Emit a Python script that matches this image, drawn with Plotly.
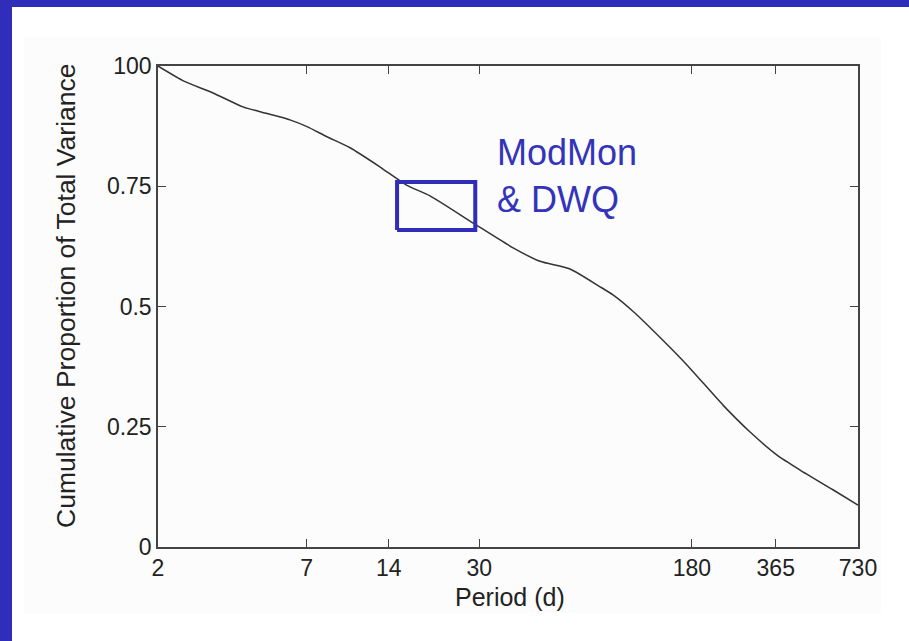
import plotly.graph_objects as go
import math

# Data
period_d = [2.0, 2.5, 3.18, 4.09, 4.73, 6.08, 7.02, 8.31, 10.1, 13.0, 16.3, 19.8,
            28.4, 39.9, 50.0, 64.4, 83.0, 92.6, 110, 138, 173, 234, 294, 369, 448, 591, 730]
cum_var = [1.0, 0.968, 0.944, 0.915, 0.905, 0.888, 0.874, 0.853, 0.830, 0.790, 0.752, 0.730,
           0.674, 0.622, 0.594, 0.578, 0.541, 0.524, 0.489, 0.435, 0.378, 0.295, 0.239, 0.191, 0.160, 0.119, 0.087]

x_ticks = [2, 7, 14, 30, 180, 365, 730]
x_tick_labels = ["2", "7", "14", "30", "180", "365", "730"]
y_ticks = [0, 0.25, 0.5, 0.75, 1.0]
y_tick_labels = ["0", "0.25", "0.5", "0.75", "100"]

box_x = [15, 29, 29, 15, 15]
box_y = [0.659, 0.659, 0.759, 0.759, 0.659]

BLUE = "rgb(47,45,185)"
FONT = "Liberation Sans, Arial, sans-serif"

fig = go.Figure()
fig.add_trace(go.Scatter(x=period_d, y=cum_var, mode="lines",
                         line=dict(color="#333333", width=1.5, shape="spline", smoothing=0.6),
                         showlegend=False, hoverinfo="skip"))
fig.add_trace(go.Scatter(x=box_x, y=box_y, mode="lines",
                         line=dict(color=BLUE, width=4), showlegend=False,
                         hoverinfo="skip"))

W, H = 909, 641
L, R, T, B = 158, 858, 66, 547

fig.update_layout(
    width=W, height=H,
    margin=dict(l=L, r=W - R, t=T, b=H - B, pad=0),
    paper_bgcolor="white", plot_bgcolor="rgba(0,0,0,0)",
    font=dict(family=FONT, color="#222222", size=23),
    xaxis=dict(type="log", range=[math.log10(2), math.log10(730)],
               tickvals=x_ticks, ticktext=x_tick_labels,
               ticks="inside", ticklen=8, tickwidth=1.2, tickcolor="#444",
               showline=True, linecolor="#444", linewidth=1.5, mirror="ticks",
               showgrid=False, zeroline=False, tickfont=dict(size=23)),
    yaxis=dict(range=[0, 1], tickvals=y_ticks, ticktext=y_tick_labels,
               ticks="inside", ticklen=8, tickwidth=1.2, tickcolor="#444",
               showline=True, linecolor="#444", linewidth=1.5, mirror="ticks",
               showgrid=False, zeroline=False, tickfont=dict(size=23)),
    shapes=[
        dict(type="rect", xref="paper", yref="paper", layer="below",
             x0=(24 - L) / (R - L), x1=(881 - L) / (R - L),
             y0=(B - 613) / (B - T), y1=(B - 38) / (B - T),
             fillcolor="#FCFCFC", line=dict(width=0)),
        dict(type="rect", xref="paper", yref="paper",
             x0=-L / (R - L), x1=(W - L) / (R - L),
             y0=(B - 7) / (B - T), y1=B / (B - T),
             fillcolor=BLUE, line=dict(width=0)),
        dict(type="rect", xref="paper", yref="paper",
             x0=-L / (R - L), x1=(12 - L) / (R - L),
             y0=(B - H) / (B - T), y1=B / (B - T),
             fillcolor=BLUE, line=dict(width=0)),
    ],
    annotations=[
        dict(text="ModMon<br>& DWQ", xref="paper", yref="paper",
             x=(495 - L) / (R - L), y=(B - 130) / (B - T),
             xanchor="left", yanchor="top", align="left", showarrow=False,
             font=dict(family=FONT, size=36, color="rgb(51,51,187)")),
        dict(text="Period (d)", xref="paper", yref="paper",
             x=(510 - L) / (R - L), y=(B - 597) / (B - T),
             xanchor="center", yanchor="middle", showarrow=False,
             font=dict(family=FONT, size=25, color="#222222")),
        dict(text="Cumulative Proportion of Total Variance", xref="paper", yref="paper",
             x=(66 - L) / (R - L), y=(B - 296) / (B - T), textangle=-90,
             xanchor="center", yanchor="middle", showarrow=False,
             font=dict(family=FONT, size=26.5, color="#222222")),
    ],
)

fig.write_html("out.html")
